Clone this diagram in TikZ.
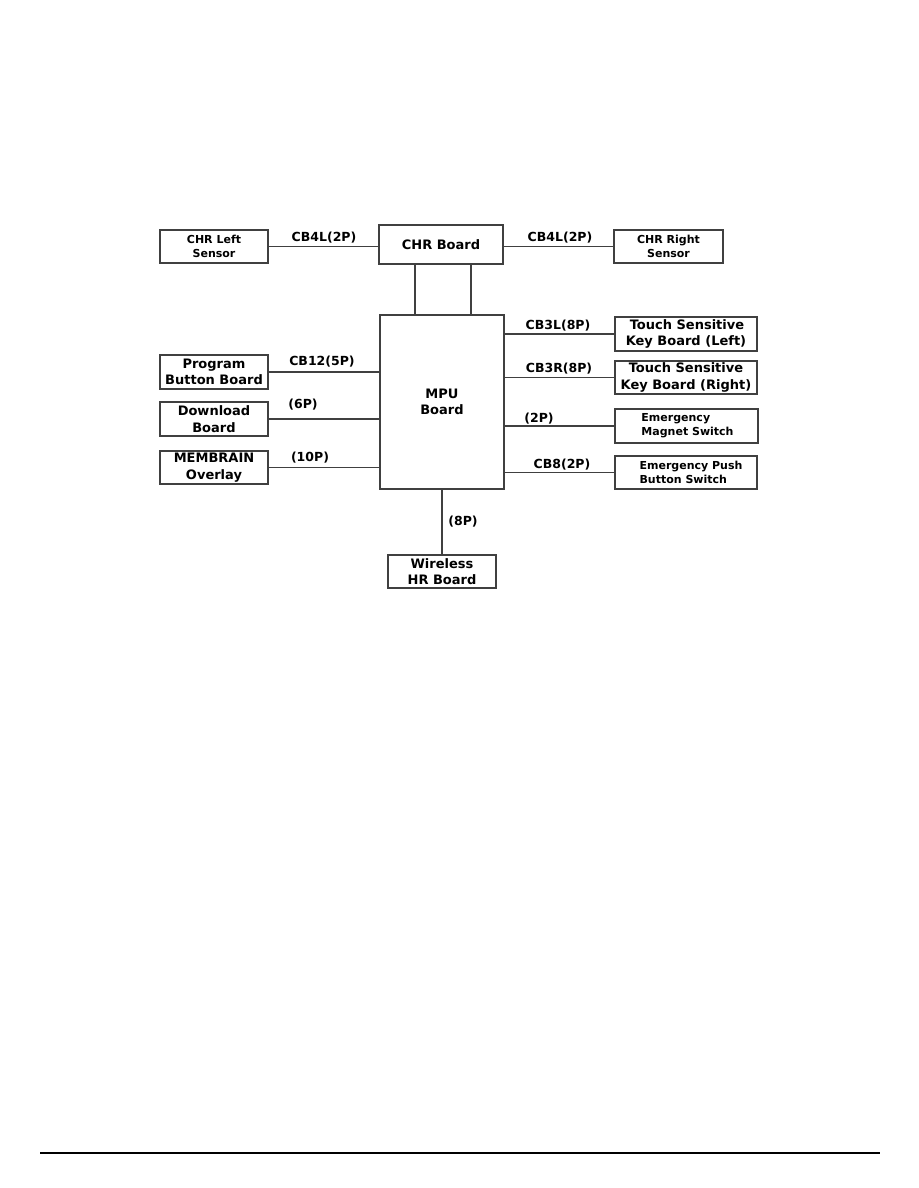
\documentclass[tikz,border=0pt]{standalone}
\usepackage{fontspec}
\setmainfont{DejaVu Sans}
\begin{document}
\begin{tikzpicture}[x=1pt,y=-1pt,
  box/.style={draw=black!75, line width=1.1pt, inner sep=0pt, align=center, font=\bfseries\fontsize{11}{14}\selectfont},
  bigbox/.style={box, font=\bfseries\fontsize{13}{16.5}\selectfont},
  lbl/.style={font=\bfseries\fontsize{12.5}{13}\selectfont, inner sep=0pt},
  wire/.style={draw=black!75, line width=1.1pt}]
\useasboundingbox (0,0) rectangle (918,1188);
% top row
\node[box, minimum width=108pt, minimum height=33pt] (chrl) at (214,246.5) {CHR Left\\Sensor};
\node[bigbox, minimum width=124pt, minimum height=39pt] (chr) at (441,244.5) {CHR Board};
\node[box, minimum width=109pt, minimum height=33pt] (chrr) at (668.5,246.5) {CHR Right\\Sensor};
\node[bigbox, minimum width=124pt, minimum height=174pt] (mpu) at (442,402) {MPU\\Board};
% left
\node[bigbox, minimum width=108pt, minimum height=34pt] (prog) at (214,372) {Program\\Button Board};
\node[bigbox, minimum width=108pt, minimum height=34pt] (down) at (214,419) {Download\\Board};
\node[bigbox, minimum width=108pt, minimum height=33pt] (memb) at (214,467.5) {MEMBRAIN\\Overlay};
% right
\node[bigbox, minimum width=142pt, minimum height=34pt] (tskl) at (686,334) {\hspace*{2pt}Touch Sensitive\\Key Board (Left)};
\node[bigbox, minimum width=142pt, minimum height=33pt] (tskr) at (686,377.5) {Touch Sensitive\\Key Board (Right)};
\node[box, minimum width=143pt, minimum height=34pt, align=left] (ems) at (686.5,426) {\hspace*{2pt}Emergency\\\hspace*{2pt}Magnet Switch};
\node[box, minimum width=142pt, minimum height=33pt, align=left] (emp) at (686,472.5) {\hspace*{10pt}Emergency Push\\\hspace*{10pt}Button Switch};
% bottom
\node[bigbox, minimum width=108pt, minimum height=33pt] (wrl) at (442,571.5) {Wireless\\HR Board};
% connectors
\draw[wire] (chrl.east) -- (chr.west |- chrl.east);
\draw[wire] (chr.east |- chrr.west) -- (chrr.west);
\draw[wire] ([xshift=-26pt]chr.south) -- ([xshift=-27pt]mpu.north);
\draw[wire] ([xshift=30pt]chr.south) -- ([xshift=29pt]mpu.north);
\draw[wire] (prog.east) -- (mpu.west |- prog.east);
\draw[wire] (down.east) -- (mpu.west |- down.east);
\draw[wire] (memb.east) -- (mpu.west |- memb.east);
\draw[wire] (mpu.east |- tskl.west) -- (tskl.west);
\draw[wire] (mpu.east |- tskr.west) -- (tskr.west);
\draw[wire] (mpu.east |- ems.west) -- (ems.west);
\draw[wire] (mpu.east |- emp.west) -- (emp.west);
\draw[wire] (mpu.south) -- (wrl.north);
% labels
\node[lbl] (l1) at (324,238) {CB4L(2P)};
\node[lbl] (l2) at (560,238) {CB4L(2P)};
\node[lbl] (l3) at (322,362) {CB12(5P)};
\node[lbl] (l4) at (303,405) {(6P)};
\node[lbl] (l5) at (310,458) {(10P)};
\node[lbl] (l6) at (558,326) {CB3L(8P)};
\node[lbl] (l7) at (559,369) {CB3R(8P)};
\node[lbl] (l8) at (539,419) {(2P)};
\node[lbl] (l9) at (562,465) {CB8(2P)};
\node[lbl] (l10) at (463,522) {(8P)};
% footer rule
\coordinate (fl) at (40,1153);
\coordinate (fr) at (880,1153);
\draw[line width=1.3pt] (fl) -- (fr);
\end{tikzpicture}
\end{document}
